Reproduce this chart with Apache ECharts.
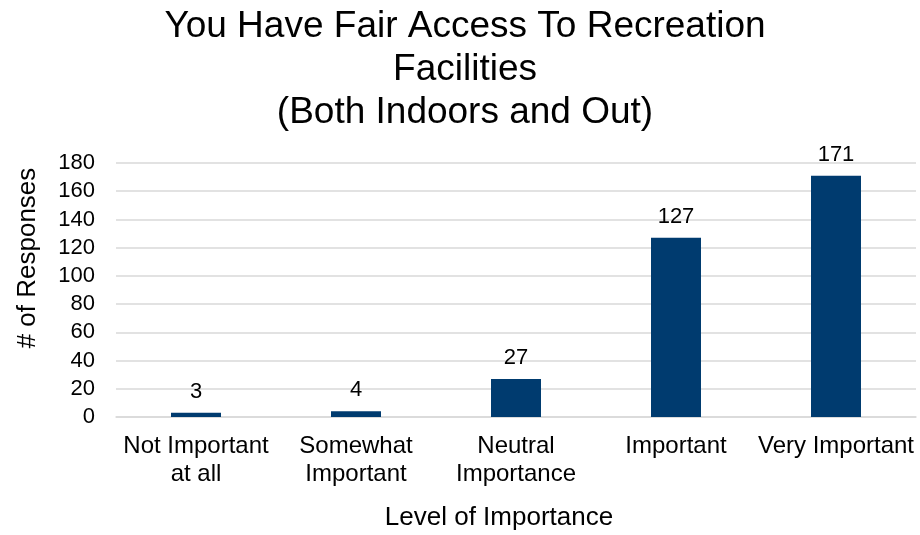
<!DOCTYPE html>
<html><head><meta charset="utf-8">
<script src="https://cdn.jsdelivr.net/npm/echarts@6/dist/echarts.min.js"></script>
<style>html,body{margin:0;padding:0;background:#fff}#c{width:920px;height:535px}</style>
</head><body><div id="c"></div>
<script>
var categories = ['Not Important\nat all', 'Somewhat\nImportant', 'Neutral\nImportance', 'Important', 'Very Important'];
var responses = [3, 4, 27, 127, 171];
var yTicks = {min: 0, max: 180, interval: 20};
var titleText = 'You Have Fair Access To Recreation\nFacilities\n(Both Indoors and Out)';
var font = 'Liberation Sans, Arial, sans-serif';
var chart = echarts.init(document.getElementById('c'));
chart.setOption({
  animation: false,
  title: {text: titleText, left: 460, top: 0, textAlign: 'center',
    textStyle: {fontFamily: font, fontSize: 37, fontWeight: 'normal', color: '#000', lineHeight: 43}},
  grid: {left: 116, right: 4, top: 163, bottom: 118},
  xAxis: {type: 'category', data: categories, name: 'Level of Importance', nameLocation: 'middle', nameGap: 88,
    nameTextStyle: {fontFamily: font, fontSize: 26, color: '#000', padding: [0, 34, 0, 0]},
    axisLine: {lineStyle: {color: '#d9d9d9', width: 1.5}}, axisTick: {show: false},
    axisLabel: {fontFamily: font, fontSize: 24, color: '#000', margin: 15, lineHeight: 28, interval: 0}},
  yAxis: {type: 'value', min: yTicks.min, max: yTicks.max, interval: yTicks.interval,
    name: '# of Responses', nameLocation: 'middle', nameGap: 75, nameRotate: 90,
    nameTextStyle: {fontFamily: font, fontSize: 26, color: '#000', padding: [0, 0, 0, 64]},
    axisLabel: {fontFamily: font, fontSize: 22, color: '#000', margin: 21},
    splitLine: {lineStyle: {color: '#d9d9d9', width: 1.5}}},
  series: [{type: 'bar', data: responses, barWidth: 50, itemStyle: {color: '#003b6f'},
    label: {show: true, position: 'top', distance: 10, fontFamily: font, fontSize: 22, color: '#000'}}]
});
</script></body></html>
